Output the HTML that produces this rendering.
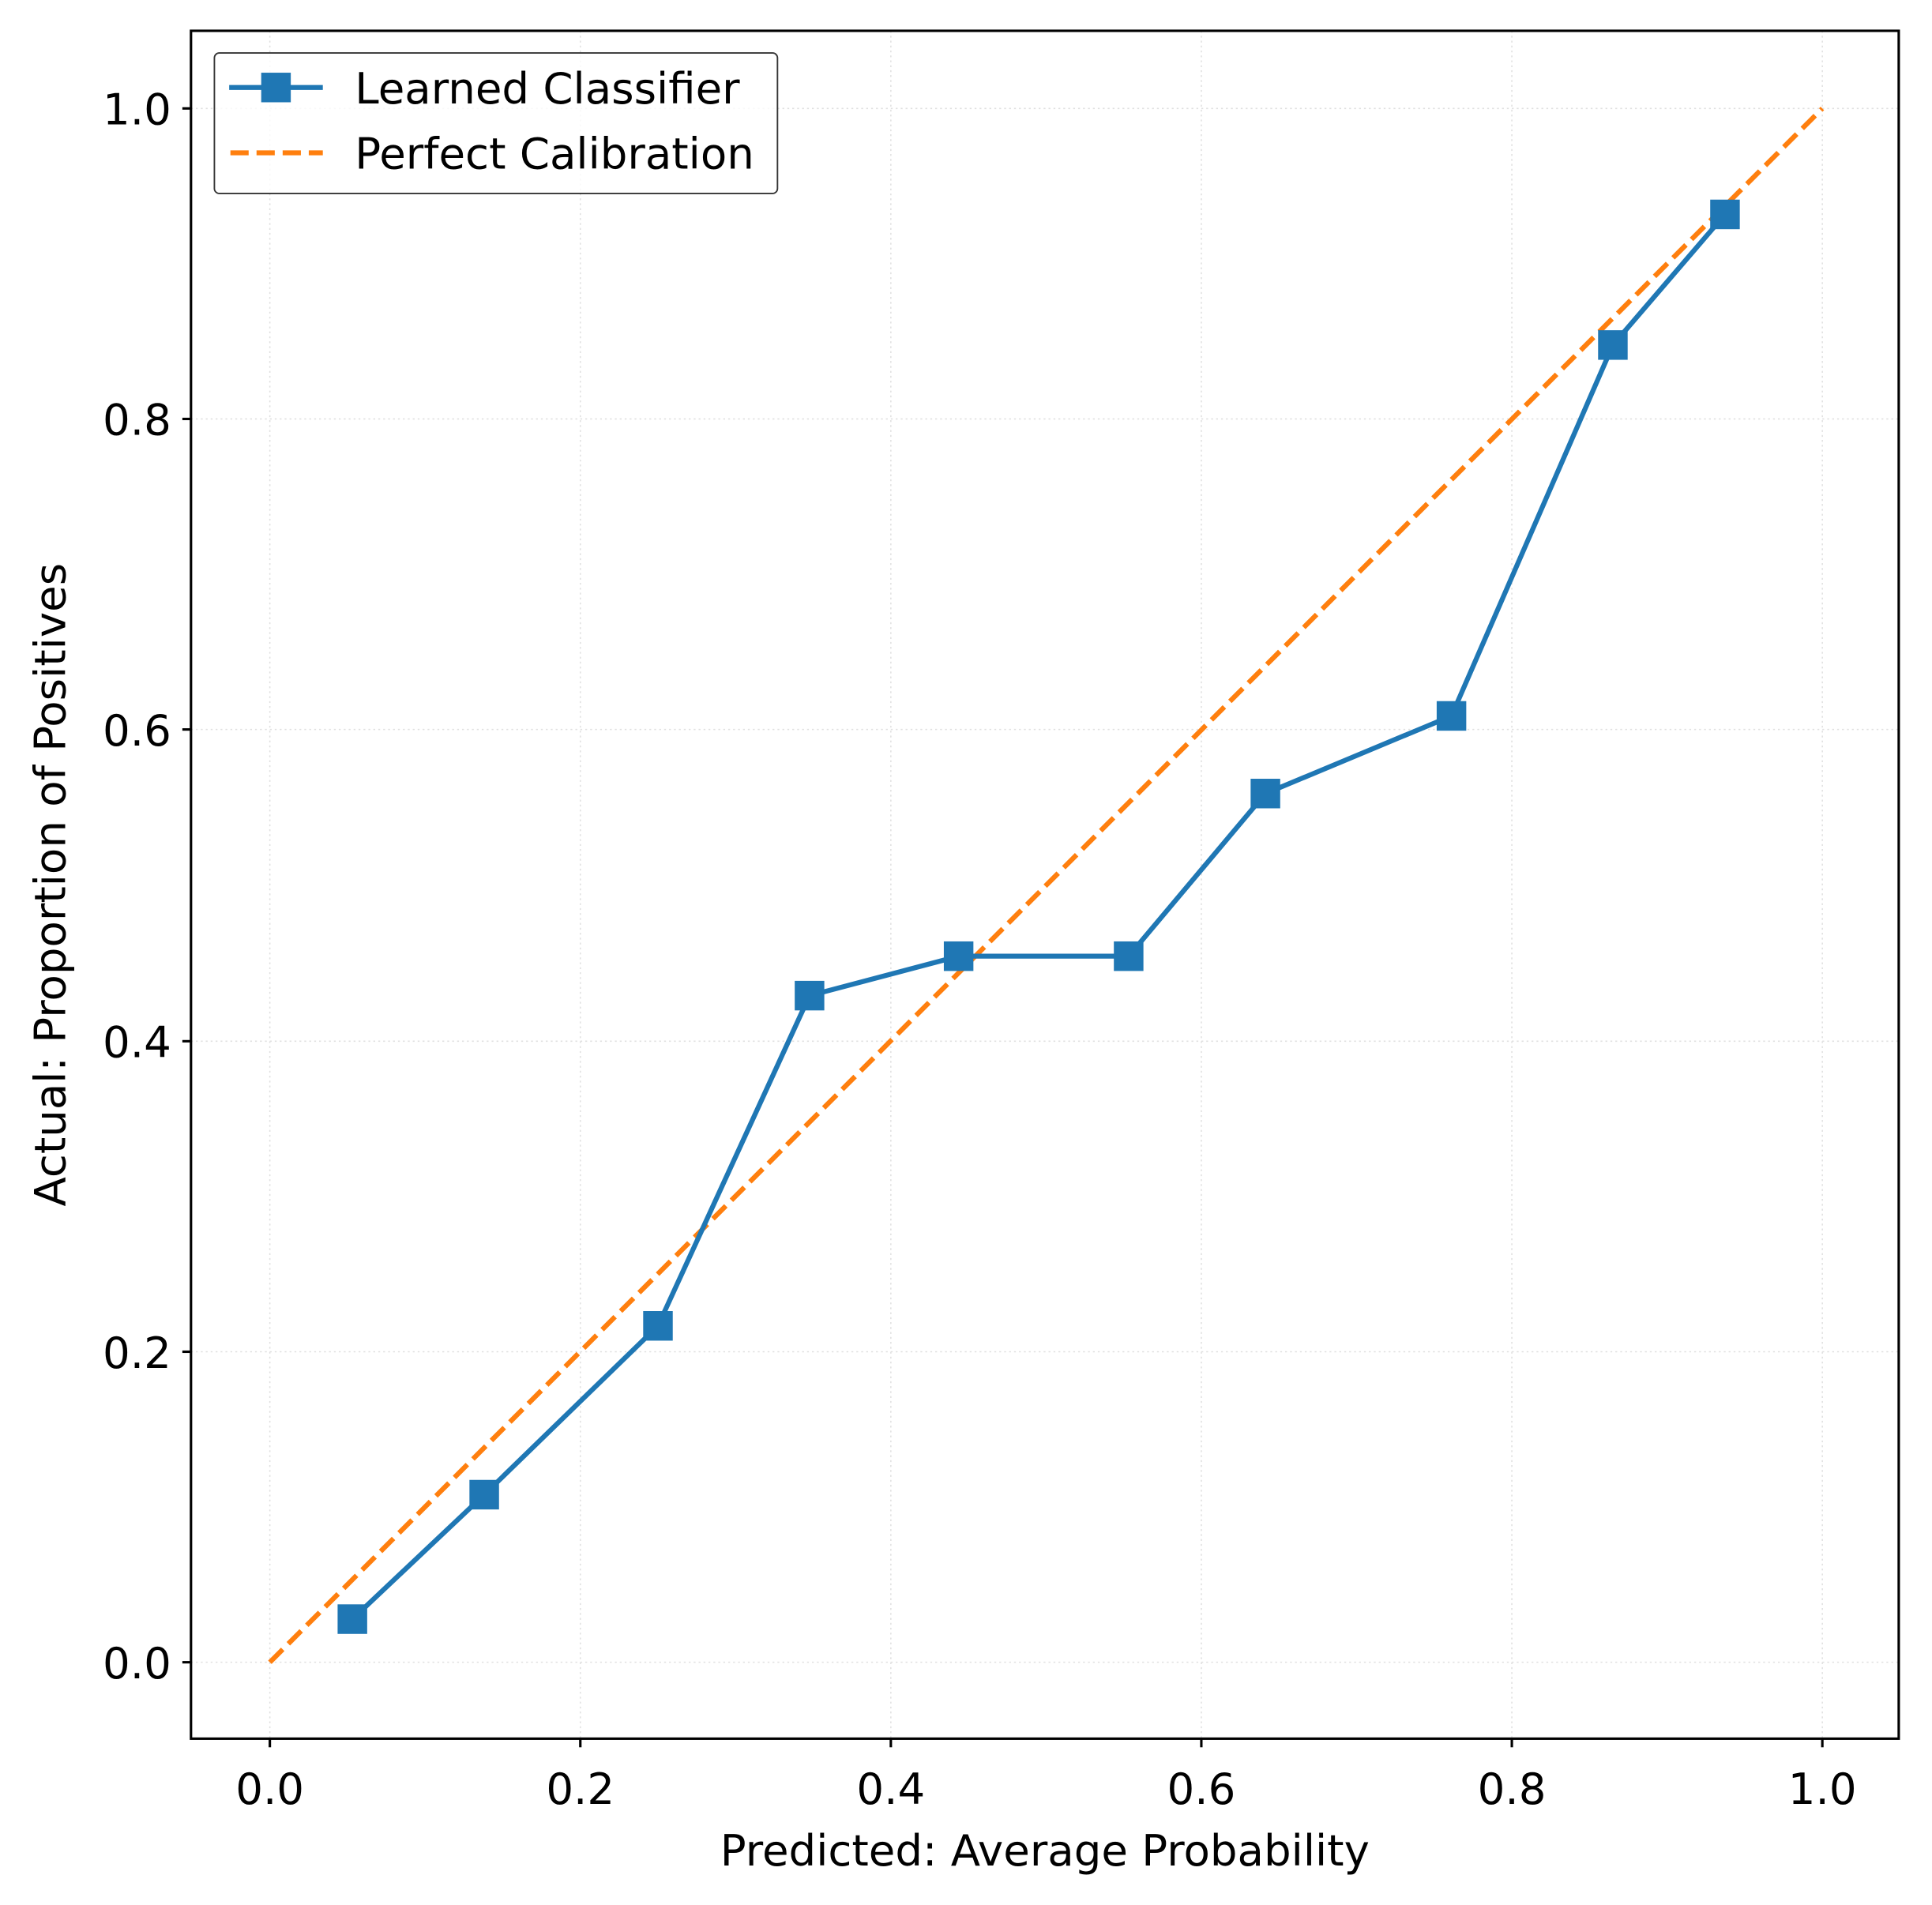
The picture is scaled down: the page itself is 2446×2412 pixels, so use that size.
<!DOCTYPE html>
<html><head><meta charset="utf-8"><style>html,body{margin:0;padding:0;background:#fff}svg{display:block}</style></head>
<body>
<svg width="2446" height="2412" viewBox="0 0 1568 1546" preserveAspectRatio="none" xmlns="http://www.w3.org/2000/svg" font-family="'DejaVu Sans','Liberation Sans',sans-serif">
<rect width="1568" height="1546" fill="#fff"/>
<g stroke="#e0e0e0" stroke-width="1" stroke-dasharray="1.5,2.5">
<line x1="219" y1="25" x2="219" y2="1411"/><line x1="471" y1="25" x2="471" y2="1411"/><line x1="723" y1="25" x2="723" y2="1411"/><line x1="975" y1="25" x2="975" y2="1411"/><line x1="1227" y1="25" x2="1227" y2="1411"/><line x1="1479" y1="25" x2="1479" y2="1411"/>
<line x1="155" y1="1349" x2="1541" y2="1349"/><line x1="155" y1="1097" x2="1541" y2="1097"/><line x1="155" y1="845" x2="1541" y2="845"/><line x1="155" y1="592" x2="1541" y2="592"/><line x1="155" y1="340" x2="1541" y2="340"/><line x1="155" y1="88" x2="1541" y2="88"/>
</g>
<line x1="219" y1="1349" x2="1479" y2="88" stroke="#ff7f0e" stroke-width="4" stroke-dasharray="14.8,6.4"/>
<polyline fill="none" stroke="#1f77b4" stroke-width="4" stroke-linejoin="round" points="286,1314 393,1213 534,1076 657,808 778,776 916,776 1027,644 1178,581 1309,280 1400,174"/>
<g fill="#1f77b4">
<rect x="274" y="1302" width="24" height="24"/><rect x="381" y="1201" width="24" height="24"/><rect x="522" y="1064" width="24" height="24"/><rect x="645" y="796" width="24" height="24"/><rect x="766" y="764" width="24" height="24"/><rect x="904" y="764" width="24" height="24"/><rect x="1015" y="632" width="24" height="24"/><rect x="1166" y="569" width="24" height="24"/><rect x="1297" y="268" width="24" height="24"/><rect x="1388" y="162" width="24" height="24"/>
</g>
<rect x="155" y="25" width="1386" height="1386" fill="none" stroke="#000" stroke-width="2"/>
<g stroke="#000" stroke-width="2">
<line x1="219" y1="1411" x2="219" y2="1418"/><line x1="471" y1="1411" x2="471" y2="1418"/><line x1="723" y1="1411" x2="723" y2="1418"/><line x1="975" y1="1411" x2="975" y2="1418"/><line x1="1227" y1="1411" x2="1227" y2="1418"/><line x1="1479" y1="1411" x2="1479" y2="1418"/>
<line x1="148" y1="1349" x2="155" y2="1349"/><line x1="148" y1="1097" x2="155" y2="1097"/><line x1="148" y1="845" x2="155" y2="845"/><line x1="148" y1="592" x2="155" y2="592"/><line x1="148" y1="340" x2="155" y2="340"/><line x1="148" y1="88" x2="155" y2="88"/>
</g>
<g font-size="35" fill="#000" text-anchor="middle">
<text x="219" y="1464">0.0</text><text x="471" y="1464">0.2</text><text x="723" y="1464">0.4</text><text x="975" y="1464">0.6</text><text x="1227" y="1464">0.8</text><text x="1479" y="1464">1.0</text>
</g>
<g font-size="35" fill="#000" text-anchor="end">
<text x="139" y="1362">0.0</text><text x="139" y="1110">0.2</text><text x="139" y="858">0.4</text><text x="139" y="605">0.6</text><text x="139" y="353">0.8</text><text x="139" y="101">1.0</text>
</g>
<text x="848" y="1514" font-size="35" text-anchor="middle">Predicted: Average Probability</text>
<text transform="translate(53,718) rotate(-90)" font-size="35" text-anchor="middle">Actual: Proportion of Positives</text>
<rect x="174" y="43" width="457" height="114" rx="4" fill="#fff" fill-opacity="0.8" stroke="#333" stroke-width="1.2"/>
<line x1="186" y1="71" x2="262" y2="71" stroke="#1f77b4" stroke-width="4"/>
<rect x="212" y="59" width="24" height="24" fill="#1f77b4"/>
<line x1="187" y1="124" x2="262" y2="124" stroke="#ff7f0e" stroke-width="4" stroke-dasharray="14.8,6.4"/>
<text x="288" y="84" font-size="35">Learned Classifier</text>
<text x="288" y="137" font-size="35">Perfect Calibration</text>
</svg>
</body></html>
